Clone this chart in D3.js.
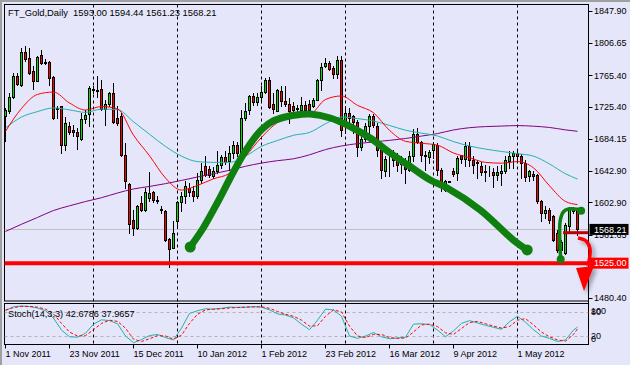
<!DOCTYPE html>
<html><head><meta charset="utf-8">
<script src="https://cdn.jsdelivr.net/npm/d3@7"></script>
<style>
body{margin:0;background:#fff}
svg{display:block}
text{font-family:"Liberation Sans",Arial,sans-serif;font-size:9px;fill:#000}
</style>
</head><body>
<svg id="c" width="630" height="365"></svg>
<script>
// ---------- DATA ----------
const symbolTitle = "FT_Gold,Daily  1593.00 1594.44 1561.23 1568.21";
const stochTitle = "Stoch(14,3,3) 42.6786 37.9657";

const openP = [1713.9,1719.4,1737.8,1764.3,1753.6,1795.5,1787.0,1770.7,1758.8,1791.2,1781.5,1782.3,1763.5,1723.3,1725.9,1676.7,1700.2,1695.9,1692.5,1684.0,
1710.0,1716.5,1748.1,1746.4,1748.5,1722.4,1728.8,1743.0,1710.9,1713.9,1663.9,1626.7,1579.7,1569.9,1601.9,1593.4,1608.0,1615.6,1605.5,1594.0,
1592.1,1555.7,1544.2,1578.4,1602.8,1611.3,1621.1,1617.7,1611.3,1631.8,1648.9,1645.0,1637.0,1642.5,1651.1,1660.5,1655.3,1666.0,1676.7,1666.0,
1710.9,1720.7,1739.5,1731.0,1737.8,1744.2,1760.0,1729.3,1720.3,1745.1,1733.1,1728.8,1726.7,1723.7,1720.7,1728.0,1729.3,1725.9,1734.4,1760.0,
1777.1,1781.4,1775.0,1767.7,1784.8,1700.2,1717.3,1713.0,1705.3,1673.7,1684.4,1700.2,1713.9,1700.2,1670.3,1642.5,1657.5,1666.0,1657.5,1652.8,
1651.1,1644.6,1661.7,1690.8,1679.7,1663.0,1660.9,1670.3,1676.7,1644.6,1619.0,1629.7,1643.4,1640.4,1663.0,1658.3,1675.4,1656.6,1654.5,1649.8,
1643.0,1642.1,1641.7,1637.4,1640.4,1643.4,1655.3,1661.7,1666.0,1661.7,1653.2,1636.1,1639.1,1638.2,1604.9,1589.1,1593.4,1584.8,1563.4,1542.1,
1537.8,1572.8,1591.2,1593.00];
const highP = [1723.7,1743.0,1768.6,1768.6,1800.6,1802.8,1800.6,1777.1,1790.0,1797.7,1785.7,1783.6,1764.3,1725.9,1726.7,1712.2,1705.3,1702.3,1698.1,1717.3,
1721.6,1751.5,1752.4,1764.3,1759.2,1734.4,1743.8,1755.8,1725.9,1717.3,1678.8,1627.6,1593.4,1599.8,1610.5,1621.1,1641.2,1618.0,1610.5,1597.6,
1593.4,1557.0,1578.4,1604.0,1615.6,1629.7,1627.6,1623.3,1640.4,1653.2,1662.6,1650.0,1648.0,1668.2,1663.9,1668.2,1674.6,1681.0,1679.7,1721.6,
1730.1,1740.8,1743.0,1743.0,1751.5,1762.2,1763.0,1743.0,1748.1,1751.5,1752.4,1736.5,1731.0,1728.0,1737.8,1732.3,1734.4,1736.5,1760.9,1781.4,
1787.8,1783.6,1777.1,1790.0,1790.0,1725.9,1723.7,1715.2,1708.8,1691.7,1704.5,1716.5,1716.5,1704.5,1672.4,1661.7,1661.7,1670.3,1666.0,1661.7,
1659.6,1668.2,1696.8,1698.1,1681.0,1668.2,1670.3,1679.7,1678.8,1646.8,1631.8,1630.5,1646.8,1662.6,1663.4,1679.7,1679.7,1661.7,1657.5,1654.0,
1651.1,1648.9,1646.8,1648.9,1651.1,1661.7,1668.2,1668.2,1668.2,1665.2,1657.5,1644.6,1642.5,1639.1,1606.2,1597.6,1595.1,1587.0,1567.7,1554.9,
1576.3,1596.8,1596.8,1594.44];
const lowP = [1681.0,1717.3,1736.5,1753.6,1752.4,1783.6,1767.7,1748.1,1757.9,1779.3,1779.3,1753.6,1709.6,1710.9,1666.0,1670.3,1690.8,1687.4,1671.2,1683.1,
1704.5,1701.1,1743.0,1737.8,1721.6,1702.3,1725.9,1704.5,1702.3,1661.7,1621.1,1563.4,1561.3,1568.6,1591.2,1591.2,1604.0,1603.0,1601.9,1589.1,
1554.0,1520.7,1544.0,1569.9,1591.2,1601.9,1610.5,1604.0,1608.3,1627.6,1636.1,1635.0,1634.0,1640.4,1646.8,1652.3,1644.6,1659.6,1661.7,1661.7,
1708.8,1716.5,1728.0,1728.0,1734.4,1743.0,1723.7,1717.3,1719.4,1725.9,1725.9,1704.5,1716.0,1719.4,1717.3,1719.4,1717.3,1725.0,1733.6,1747.2,
1776.3,1772.0,1762.2,1762.2,1687.4,1691.7,1702.3,1691.7,1661.7,1670.3,1681.0,1681.0,1699.4,1661.7,1634.0,1636.1,1636.1,1648.9,1642.5,1640.4,
1627.6,1642.5,1655.3,1678.8,1655.3,1644.6,1653.2,1659.6,1638.2,1616.9,1616.9,1628.4,1636.1,1631.8,1653.2,1648.9,1648.9,1640.4,1634.0,1638.2,
1629.7,1636.1,1622.4,1631.8,1625.4,1640.4,1646.8,1646.8,1654.0,1634.0,1629.7,1629.7,1631.8,1601.9,1578.4,1582.7,1576.3,1552.8,1538.7,1531.4,
1537.0,1565.6,1589.1,1561.23];
const closeP = [1721.6,1737.8,1764.3,1754.9,1795.5,1785.7,1768.6,1758.8,1789.1,1780.6,1782.3,1762.2,1710.9,1722.9,1676.3,1704.5,1692.5,1692.9,1687.4,1710.0,
1715.2,1749.4,1747.2,1745.5,1722.4,1729.3,1743.0,1705.8,1704.5,1663.9,1629.7,1575.4,1569.9,1598.5,1593.4,1615.6,1615.0,1606.2,1604.8,1593.0,
1554.9,1542.9,1563.4,1602.8,1611.3,1623.3,1615.6,1611.3,1631.8,1643.4,1637.4,1638.0,1643.0,1651.1,1660.5,1654.9,1666.0,1676.7,1666.0,1710.9,
1719.4,1739.5,1731.0,1737.8,1744.2,1760.0,1724.6,1722.4,1746.4,1733.1,1729.3,1720.3,1721.6,1722.9,1728.0,1721.6,1721.6,1734.4,1760.0,1776.3,
1781.4,1773.7,1767.3,1784.8,1695.9,1717.3,1710.9,1705.3,1673.7,1684.4,1700.2,1713.9,1702.3,1670.3,1644.6,1658.3,1656.6,1657.5,1651.1,1651.9,
1645.5,1661.7,1690.8,1679.7,1663.9,1662.2,1666.9,1678.0,1644.6,1625.4,1629.7,1629.3,1639.1,1659.6,1657.9,1675.4,1657.5,1651.1,1653.6,1641.2,
1642.1,1641.2,1637.4,1641.7,1643.4,1657.5,1662.6,1666.0,1661.7,1653.2,1635.3,1642.5,1636.1,1604.0,1589.1,1593.4,1579.7,1554.9,1542.1,1551.5,
1574.1,1594.2,1594.2,1568.21];

// moving averages (read every 4 bars)
const maBars = [0,4,8,12,16,20,24,28,32,36,40,44,48,52,56,60,64,68,72,76,80,84,88,92,96,100,104,108,112,116,120,124,128,132,136,140,143];
const maRed = [1693.8,1723,1741,1744,1730,1721,1725.5,1722.5,1688.8,1662.5,1634,1618.5,1624.5,1633,1640,1661.7,1686,1705,1713,1715,1734.5,1739,1727,1717.5,1695,1681,1678.5,1676,1666,1660,1654,1653,1655,1647,1624,1604,1600];
const maTeal = [1698,1712,1719,1723.7,1721.2,1718,1722.2,1721.5,1706,1690,1674.4,1662,1655,1654,1654,1662,1674.5,1682,1688.7,1692.3,1703.5,1712,1710,1707,1701.3,1695.2,1691.4,1687.8,1680.6,1675,1671,1668,1665.2,1662,1652,1639.4,1632.7];
const maPurple = [1565.6,1574.8,1583.5,1592.4,1598.4,1603.9,1608.8,1614.8,1620,1623.2,1626.8,1630.9,1635.3,1639.5,1643.9,1649,1653.1,1656.2,1658.6,1663.7,1670.4,1675,1678,1680.2,1682.2,1684.6,1687.7,1690.9,1695.5,1698.4,1699.8,1700.5,1701.1,1700.3,1698.7,1695.6,1693.8];

// stochastic (read every 2 bars)
const stBars = d3.range(0,143,2).concat([143]);
const stMain = [84,94,96,94.5,91,84,65,35,18,17,27,50,61,59,51,20,3,11,21,24,16,10,40,77,84,89,88,90,93,92.6,93,94.3,93,86,76,73,66,50,36,60,88,86,70,20,14,20,29,18,13,15,17,50,51,49,35,18,33,52,59,53,47,42,37,56,70,55,36,20,14,6,10,35,42.68];
const stSignal = [86,92,95,95,93,88,76,52,30,20,21,36,52,60,57,40,12,6,13,21,20,12,22,52,75,86,88,89,91,92,93,93.5,94,90,82,75,70,60,45,46,70,86,81,45,20,16,24,24,16,14,15,30,48,50,44,28,24,39,54,57,51,45,40,44,60,64,48,30,18,10,7,24,37.97];
const stLevels = [80,20];

// axes
const priceTicks = [1847.90,1806.65,1765.40,1725.40,1684.15,1642.90,1602.90,1561.65,1480.40];
const stochTicks = ["100","80","20","0"];
const dateLabels = ["1 Nov 2011","23 Nov 2011","15 Dec 2011","10 Jan 2012","1 Feb 2012","23 Feb 2012","16 Mar 2012","9 Apr 2012","1 May 2012"];
const dateBars = [0,16,32,48,64,80,96,112,128];
const gridBars = [22,43,64,85,107,128];

// levels & annotations
const bidPrice = 1568.21;
const supportPrice = 1525.00;
const trendArc = [[46.18,1545.7],[49.43,1570.0],[52.93,1602.0],[56.18,1634.0],[58.93,1659.6],[61.68,1681.4],[64.18,1696.7],[66.93,1707.0],[69.93,1712.1],[73.68,1715.3],[76.18,1715.9],[81.18,1710.8],[86.18,1699.9],[91.18,1685.2],[96.18,1666.0],[101.18,1648.7],[106.18,1631.5],[110.43,1621.2],[118.68,1593.1],[126.93,1554.7],[130.43,1541.9]];
const hookArc = [[138.8,1529.9],[138.55,1559],[138.7,1580],[139.5,1590.8],[140.75,1594.3],[142.85,1593.9],[143.9,1592.1]];
const targetLine = [[139.4,1564],[145.7,1564]];
const arrowCurve = [[143.13,1557.2],[145.13,1553.4],[146.13,1543.2],[145.63,1521.4]];
const arrowHead = [[142.63,1518.8],[147.13,1521.4],[144.63,1489.4]];

// ---------- DRAW ----------
const svg = d3.select("#c");
const W = 630, H = 365;
const L = 4.5, R = 588.5, T = 4.5, B1 = 301, T2 = 303.5, B2 = 344.5;

const x = d3.scaleLinear().domain([0,143]).range([5.5,577.5]);
const y = d3.scaleLinear().domain([1480.4,1847.9]).range([298,10.9]);
const ys = d3.scaleLinear().domain([0,100]).range([343.9,304.4]);

svg.append("rect").attr("width",W).attr("height",H).attr("fill","#e6e6fa");
svg.append("rect").attr("width",W).attr("height",2).attr("fill","#a0a0a0");
svg.append("rect").attr("width",2).attr("height",H).attr("fill","#a0a0a0");

const defs = svg.append("defs");
defs.append("clipPath").attr("id","mainClip").append("rect").attr("x",L).attr("y",T).attr("width",R-L).attr("height",B1-T);
defs.append("clipPath").attr("id","stClip").append("rect").attr("x",L).attr("y",T2).attr("width",R-L).attr("height",B2-T2);
const f = defs.append("filter").attr("id","shadow").attr("x","-50%").attr("y","-50%").attr("width","200%").attr("height","200%");
f.append("feDropShadow").attr("dx",3).attr("dy",3).attr("stdDeviation",2).attr("flood-color","#000").attr("flood-opacity",0.35);

// grid lines
svg.append("g").selectAll("line").data(gridBars).join("line")
  .attr("x1",d=>x(d)).attr("x2",d=>x(d)).attr("y1",T).attr("y2",B2)
  .attr("stroke","#000").attr("stroke-width",1).attr("stroke-dasharray","3,3");

// frames
svg.append("rect").attr("x",L).attr("y",T).attr("width",R-L).attr("height",B1-T).attr("fill","none").attr("stroke","#000");
svg.append("rect").attr("x",L).attr("y",T2).attr("width",R-L).attr("height",B2-T2).attr("fill","none").attr("stroke","#000");

const main = svg.append("g").attr("clip-path","url(#mainClip)");

// bid line
main.append("line").attr("x1",L).attr("x2",R).attr("y1",Math.round(y(bidPrice))+0.5).attr("y2",Math.round(y(bidPrice))+0.5)
  .attr("stroke","#c0c0c0");

// candles
const idx = d3.range(openP.length);
const cg = main.append("g").attr("shape-rendering","crispEdges");
cg.selectAll("line").data(idx).join("line")
  .attr("x1",i=>x(i)).attr("x2",i=>x(i))
  .attr("y1",i=>Math.round(y(highP[i]))).attr("y2",i=>Math.round(y(lowP[i]))+1)
  .attr("stroke","#000");
cg.selectAll("rect").data(idx).join("rect")
  .attr("x",i=>x(i)-1).attr("width",2)
  .attr("y",i=>Math.round(y(Math.max(openP[i],closeP[i])))+0.5)
  .attr("height",i=>Math.max(0,Math.round(y(Math.min(openP[i],closeP[i])))-Math.round(y(Math.max(openP[i],closeP[i])))))
  .attr("fill",i=>closeP[i]>=openP[i]?"#00e000":"#ff0000")
  .attr("stroke","#000");

// moving averages
const maLine = d3.line().x(d=>x(d[0])).y(d=>y(d[1])).curve(d3.curveMonotoneX);
[[maPurple,"#800080"],[maTeal,"#20b2aa"],[maRed,"#ff0000"]].forEach(([arr,col])=>{
  main.append("path").datum(maBars.map((b,k)=>[b,arr[k]])).attr("d",maLine)
    .attr("fill","none").attr("stroke",col).attr("stroke-width",1);
});

// support line
svg.append("line").attr("x1",L).attr("x2",R).attr("y1",y(supportPrice)).attr("y2",y(supportPrice))
  .attr("stroke","#ff0000").attr("stroke-width",4);

// annotations
const aLine = d3.line().x(d=>x(d[0])).y(d=>y(d[1])).curve(d3.curveCatmullRom);
svg.append("path").datum(trendArc).attr("d",aLine).attr("fill","none").attr("stroke","#0f800f")
  .attr("stroke-width",7).attr("stroke-linecap","round").attr("stroke-linejoin","round");
svg.selectAll("circle.big").data([trendArc[0],trendArc[trendArc.length-1]]).join("circle").attr("class","big")
  .attr("cx",d=>x(d[0])).attr("cy",d=>y(d[1])).attr("r",5.5).attr("fill","#0f800f");
svg.append("path").datum(hookArc).attr("d",aLine).attr("fill","none").attr("stroke","#0f800f")
  .attr("stroke-width",3.5).attr("stroke-linecap","round");
svg.selectAll("circle.small").data([hookArc[0],hookArc[hookArc.length-1]]).join("circle").attr("class","small")
  .attr("cx",d=>x(d[0])).attr("cy",d=>y(d[1])).attr("r",4).attr("fill","#0f800f");
svg.append("line").attr("x1",x(targetLine[0][0])).attr("x2",x(targetLine[1][0]))
  .attr("y1",y(targetLine[0][1])).attr("y2",y(targetLine[1][1])).attr("stroke","#c00000").attr("stroke-width",3);

// price axis
svg.append("line").attr("x1",R).attr("x2",R).attr("y1",T).attr("y2",B2).attr("stroke","#000");
const pa = svg.append("g");
pa.selectAll("line").data(priceTicks).join("line")
  .attr("x1",R).attr("x2",R+4).attr("y1",d=>Math.round(y(d))+0.5).attr("y2",d=>Math.round(y(d))+0.5).attr("stroke","#000");
pa.selectAll("text").data(priceTicks).join("text")
  .attr("x",594).attr("y",d=>y(d)+3.3).text(d=>d.toFixed(2));

// red arrow
const arrowG = svg.append("g").attr("filter","url(#shadow)");
arrowG.append("path").datum(arrowCurve).attr("d",aLine).attr("fill","none").attr("stroke","#ff0000").attr("stroke-width",3.5);
arrowG.append("path").attr("d","M"+arrowHead.map(d=>x(d[0])+","+y(d[1])).join("L")+"Z").attr("fill","#ff0000");

// price boxes
function box(price,bg){
  const cy = y(price);
  svg.append("rect").attr("x",R+1).attr("y",cy-5.5).attr("width",39).attr("height",11).attr("fill",bg);
  svg.append("text").attr("x",594).attr("y",cy+3.3).style("fill","#fff").text(price.toFixed(2));
}
box(bidPrice,"#000");
box(supportPrice,"#ff0000");

// stochastic
const st = svg.append("g").attr("clip-path","url(#stClip)");
st.selectAll("line").data(stLevels).join("line")
  .attr("x1",L).attr("x2",R).attr("y1",d=>Math.round(ys(d))+0.5).attr("y2",d=>Math.round(ys(d))+0.5)
  .attr("stroke","#b4b4b4").attr("stroke-dasharray","3,3");
const sLine = d3.line().x(d=>x(d[0])).y(d=>ys(d[1]));
st.append("path").datum(stBars.map((b,k)=>[b,stMain[k]])).attr("d",sLine).attr("fill","none").attr("stroke","#20b2aa");
st.append("path").datum(stBars.map((b,k)=>[b,stSignal[k]])).attr("d",sLine).attr("fill","none").attr("stroke","#ff0000").attr("stroke-dasharray","3,2");

const stY = [310.5,312,335.5,338.5];
svg.selectAll("text.st").data(stochTicks).join("text").attr("class","st")
  .attr("x",591).attr("y",(d,k)=>stY[k]+3.3).text(d=>d);

// date axis
const da = svg.append("g");
da.selectAll("line").data(dateBars).join("line")
  .attr("x1",d=>x(d)).attr("x2",d=>x(d)).attr("y1",B2).attr("y2",B2+4).attr("stroke","#000");
da.selectAll("text").data(dateBars).join("text")
  .attr("x",d=>x(d)).attr("y",356.5).text((d,k)=>dateLabels[k]);

// titles
svg.append("text").attr("x",8).attr("y",15.5).style("font-size","9.4px").attr("xml:space","preserve").text(symbolTitle);
svg.append("text").attr("x",8).attr("y",316.5).style("font-size","9.2px").text(stochTitle);
</script>
</body></html>
